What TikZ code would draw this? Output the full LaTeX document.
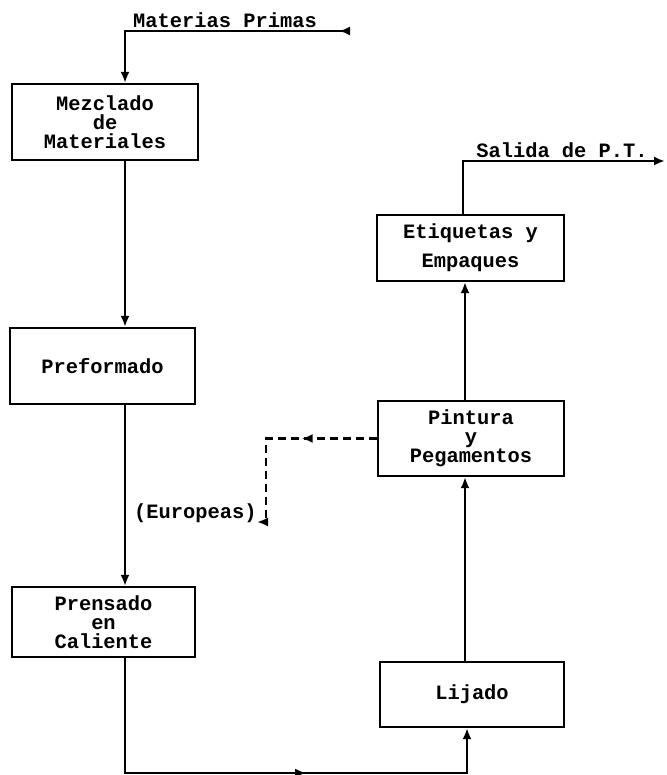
\documentclass[tikz,border=0pt]{standalone}
\usepackage{fontspec}
\setmonofont{Liberation Mono}
\usepackage{tikz}
\usetikzlibrary{arrows.meta,decorations.markings}

\newcommand{\letra}{\fontsize{10.2}{9.5}\selectfont\ttfamily\bfseries}

\begin{document}
\begin{tikzpicture}[x=0.5pt,y=-0.5pt,
  caja/.style={draw, line width=1.1pt, inner sep=0pt, align=center, font=\letra},
  flecha/.style={line width=1.1pt, -{Latex[length=5.5pt,width=4.5pt]}},
  punteada/.style={dash pattern=on 4pt off 2.5pt},
  etiqueta/.style={font=\letra, inner sep=0pt},
  medio/.style={postaction=decorate, decoration={markings, mark=at position #1 with {\arrow{Latex[length=5.5pt,width=4.5pt]}}}}]
%% Marco %%
\useasboundingbox (0,0) rectangle (666,775);

%% Cajas %%
\node[caja, minimum width=93pt, minimum height=38pt] (mezclado) at (105,122) {Mezclado\\de\\Materiales};
\node[caja, minimum width=92.5pt, minimum height=38pt] (preformado) at (102.5,366) {Preformado};
\node[caja, minimum width=91.5pt, minimum height=35pt] (prensado) at (103.5,622) {Prensado\\en\\Caliente};

\node[caja, minimum width=92pt, minimum height=32.5pt] (lijado) at (472,694.5) {Lijado};
\node[caja, minimum width=93pt, minimum height=37.5pt] (pintura) at (471,438.5) {Pintura\\y\\Pegamentos};
\node[caja, minimum width=93.5pt, minimum height=33pt] (etiquetas) at (470.5,248) {Etiquetas y\\[5pt]Empaques};


%% Textos %%
\node[etiqueta] (materias) at (225,20) {Materias Primas};
\node[etiqueta] (salida) at (562,150) {Salida de P.T.};
\node[etiqueta, anchor=east] (europeas) at (257,513) {(Europeas)};


%% Puntos %%
\coordinate (izq) at (125,0);
\coordinate (der) at (465,0);
\coordinate (sube) at (463,0);
\coordinate (entrada) at (350,31);
\coordinate (codo) at (125,31);
\coordinate (salidafin) at (665,161);
\coordinate (fondo1) at (125,773);
\coordinate (fondo2) at (467,773);
\coordinate (quiebre) at (266,438.5);
\coordinate (bajada) at (266,522);


%% Lineas %%
\draw[flecha, {Latex[reversed,length=5.5pt,width=4.5pt]}-{Latex[length=5.5pt,width=4.5pt]}] (entrada) -- (codo) -- (mezclado.north -| izq);
\draw[flecha] (mezclado.south -| izq) -- (preformado.north -| izq);
\draw[flecha] (preformado.south -| izq) -- (prensado.north -| izq);
\draw[flecha, medio=0.59] (prensado.south -| izq) -- (fondo1) -- (fondo2) -- (lijado.south -| fondo2);

\draw[flecha] (lijado.north -| der) -- (pintura.south -| der);
\draw[flecha] (pintura.north -| der) -- (etiquetas.south -| der);
\draw[flecha] (etiquetas.north -| sube) |- (salidafin);

\draw[flecha, punteada, medio=0.37] (pintura.west) -- (quiebre) -- (bajada) -- (europeas.east |- bajada);

\end{tikzpicture}
\end{document}
